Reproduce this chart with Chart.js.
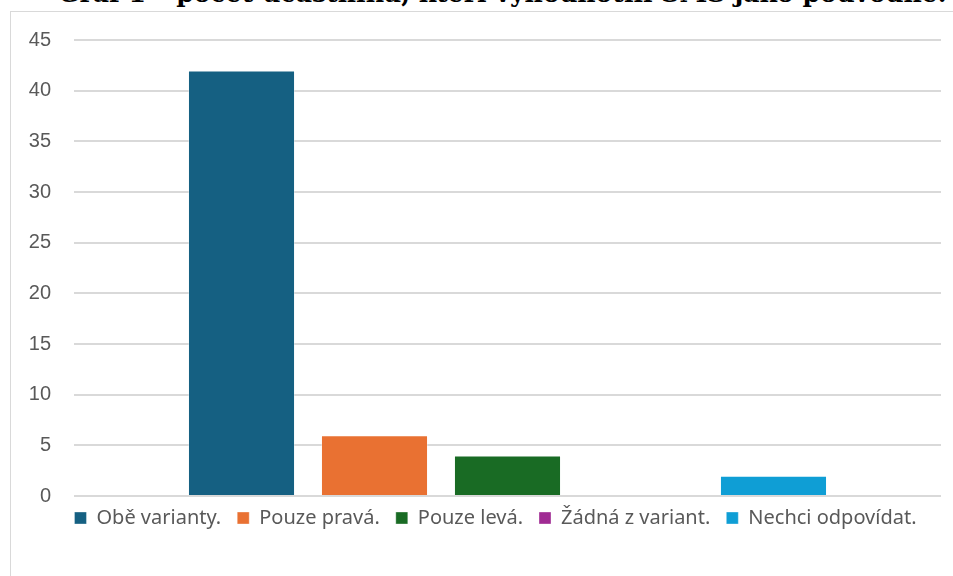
<!DOCTYPE html>
<html>
<head>
<meta charset="utf-8">
<script src="https://cdn.jsdelivr.net/npm/chart.js@4.4.1/dist/chart.umd.min.js"></script>
<style>
  html, body { margin: 0; padding: 0; background: #fff; overflow: hidden; }
  body { width: 953px; height: 576px; position: relative; }
  #title {
    position: absolute; left: 58px; top: 0; white-space: nowrap;
    font-family: "DejaVu Serif", serif; font-weight: bold; color: #000;
  }
  #frame {
    position: absolute; left: 10px; top: 11px; width: 960px; height: 580px;
    border: 1px solid #d9d9d9; box-sizing: border-box;
  }
  #wrap { position: absolute; left: 1px; top: 1px; width: 942px; height: 564px; }
</style>
</head>
<body>
<div id="title">Graf 1 – počet účastníků, kteří vyhodnotili SMS jako podvodné.</div>
<div id="frame"><div id="wrap"><canvas id="graf"></canvas></div></div>
<script>
// Kategorie odpovědí a počty účastníků
const odpovedi = ['Obě varianty.', 'Pouze pravá.', 'Pouze levá.', 'Žádná z variant.', 'Nechci odpovídat.'];
const pocty = [42, 6, 4, 0, 2];
const barvy = ['#156082', '#E97132', '#196B24', '#A02B93', '#0F9ED5'];
const osaY = { min: 0, max: 45, krok: 5 };

// titulek - dopasovat šířku a účaří (nahoře je oříznutý)
const titleEl = document.getElementById('title');
const mc = document.createElement('canvas').getContext('2d');
let fs = 30;
mc.font = `bold ${fs}px "DejaVu Serif"`;
fs = fs * 889 / mc.measureText(titleEl.textContent).width;
titleEl.style.fontSize = fs + 'px';
titleEl.style.lineHeight = fs + 'px';
titleEl.style.top = (1 - fs * 0.80) + 'px';

const datasets = odpovedi.map((nazev, i) => ({
    label: nazev,
    data: [pocty[i]],
    backgroundColor: barvy[i],
    borderColor: 'rgba(255,255,255,0.35)',
    borderWidth: 1,
    categoryPercentage: 0.767,
    barPercentage: 0.805
}));

// legenda je v Excelu vycentrovaná přes celou šířku a blíž ke grafu
const posunLegendy = {
    id: 'posunLegendy',
    afterLayout(chart) {
        const lg = chart.legend;
        lg.left += 19;
        lg.right += 19;
        lg.top -= 4;
        lg.bottom -= 4;
    }
};

new Chart(document.getElementById('graf'), {
    type: 'bar',
    data: { labels: [''], datasets: datasets },
    plugins: [posunLegendy],
    options: {
        responsive: true,
        maintainAspectRatio: false,
        animation: false,
        layout: { padding: { top: 27, right: 13, bottom: 35, left: 0 } },
        plugins: {
            legend: {
                position: 'bottom',
                align: 'center',
                labels: {
                    boxWidth: 12, boxHeight: 12, padding: 16,
                    color: '#595959',
                    font: { family: '"Noto Sans"', size: 20, lineHeight: 1.0 }
                }
            },
            tooltip: { enabled: false }
        },
        scales: {
            x: { display: false },
            y: {
                min: osaY.min, max: osaY.max,
                afterFit: (s) => { s.width = 62; },
                border: { display: false },
                grid: {
                    color: '#d9d9d9', lineWidth: 2,
                    drawTicks: true, tickLength: 23, tickColor: 'rgba(0,0,0,0)'
                },
                ticks: {
                    stepSize: osaY.krok, padding: 0, color: '#595959',
                    font: { family: '"Liberation Sans"', size: 20 }
                }
            }
        }
    }
});
</script>
</body>
</html>
